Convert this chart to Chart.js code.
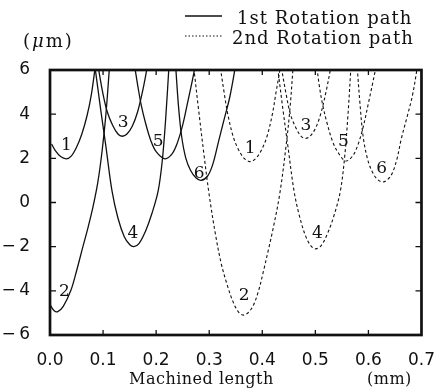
<!DOCTYPE html>
<html>
<head>
<meta charset="utf-8">
<script src="https://cdn.jsdelivr.net/npm/chart.js@4/dist/chart.umd.min.js"></script>
<style>
  body { margin: 0; background: #fff; }
  canvas { display: block; }
</style>
</head>
<body>
<canvas id="grafico" width="442" height="391"></canvas>
<script>
// Curves: [machined length (mm), height (um)]
// 1st rotation path (solid)
const rot1Curve1 = [[0.003, 2.65], [0.01, 2.35], [0.02, 2.08], [0.031, 1.98], [0.04, 2.1], [0.05, 2.5], [0.06, 3.1], [0.07, 3.95], [0.078, 4.9], [0.085, 6.1]]
const rot1Curve2 = [[0.0, -4.62], [0.007, -4.88], [0.014, -4.95], [0.025, -4.7], [0.039, -4.0], [0.05, -3.1], [0.062, -2.0], [0.072, -1.1], [0.081, -0.2], [0.09, 0.9], [0.098, 2.3], [0.105, 3.9], [0.112, 6.1]]
const rot1Curve3 = [[0.091, 6.1], [0.1, 4.9], [0.108, 4.1], [0.118, 3.5], [0.128, 3.1], [0.136, 3.0], [0.145, 3.1], [0.155, 3.45], [0.165, 4.1], [0.175, 5.1], [0.183, 6.1]]
const rot1Curve4 = [[0.085, 6.1], [0.095, 4.3], [0.105, 2.6], [0.117, 0.5], [0.128, -0.7], [0.14, -1.55], [0.15, -1.9], [0.158, -2.0], [0.168, -1.85], [0.18, -1.3], [0.192, -0.5], [0.204, 0.55], [0.212, 2.0], [0.218, 3.8], [0.224, 6.1]]
const rot1Curve5 = [[0.16, 6.1], [0.166, 5.2], [0.172, 4.4], [0.18, 3.6], [0.19, 2.8], [0.2, 2.3], [0.2165, 1.98], [0.23, 2.2], [0.24, 2.7], [0.25, 3.5], [0.26, 4.6], [0.268, 5.5], [0.273, 6.1]]
const rot1Curve6 = [[0.237, 6.1], [0.242, 4.4], [0.248, 3.0], [0.256, 2.0], [0.265, 1.45], [0.275, 1.12], [0.2845, 1.0], [0.297, 1.2], [0.307, 1.75], [0.318, 2.8], [0.328, 3.75], [0.339, 4.8], [0.349, 6.1]]

// 2nd rotation path (dashed)
const rot2Curve1 = [[0.321, 6.1], [0.328, 5.0], [0.335, 4.0], [0.345, 3.0], [0.355, 2.4], [0.366, 2.0], [0.377, 1.85], [0.388, 2.0], [0.399, 2.4], [0.409, 3.0], [0.419, 4.0], [0.426, 5.0], [0.434, 6.1]]
const rot2Curve2 = [[0.271, 6.1], [0.28, 4.2], [0.29, 2.2], [0.3, 0.34], [0.312, -1.47], [0.323, -2.8], [0.334, -3.74], [0.345, -4.5], [0.355, -4.95], [0.365, -5.1], [0.375, -4.95], [0.3835, -4.64], [0.393, -4.0], [0.402, -3.13], [0.411, -2.2], [0.4205, -1.17], [0.433, 0.4], [0.445, 2.6], [0.452, 4.2], [0.458, 6.1]]
const rot2Curve3 = [[0.436, 6.1], [0.445, 4.9], [0.453, 4.0], [0.463, 3.4], [0.473, 3.0], [0.481, 2.9], [0.49, 3.0], [0.5, 3.35], [0.51, 4.0], [0.52, 5.0], [0.529, 6.1]]
const rot2Curve4 = [[0.429, 6.1], [0.439, 4.2], [0.448, 2.6], [0.46, 0.5], [0.471, -0.7], [0.483, -1.6], [0.493, -2.0], [0.501, -2.1], [0.511, -1.95], [0.523, -1.4], [0.535, -0.6], [0.547, 0.5], [0.555, 2.0], [0.561, 3.8], [0.567, 6.1]]
const rot2Curve5 = [[0.503, 6.1], [0.508, 5.2], [0.514, 4.4], [0.522, 3.6], [0.532, 2.8], [0.542, 2.3], [0.557, 1.88], [0.57, 2.1], [0.58, 2.6], [0.59, 3.4], [0.6, 4.5], [0.608, 5.4], [0.614, 6.1]]
const rot2Curve6 = [[0.579, 6.1], [0.584, 4.5], [0.59, 3.0], [0.598, 2.0], [0.607, 1.4], [0.617, 1.05], [0.628, 0.93], [0.642, 1.2], [0.653, 1.9], [0.662, 2.89], [0.672, 3.8], [0.683, 4.85], [0.692, 6.1]]

// Number tags next to each curve: [text, x (mm), y (um)]
const rot1Tags = [['1', 0.031, 2.6], ['2', 0.027, -4.05], ['3', 0.138, 3.6], ['4', 0.156, -1.4], ['5', 0.204, 2.74], ['6', 0.281, 1.3]]
const rot2Tags = [['1', 0.377, 2.44], ['2', 0.366, -4.2], ['3', 0.482, 3.5], ['4', 0.504, -1.4], ['5', 0.553, 2.74], ['6', 0.625, 1.53]]

const xTicks = [0, 0.1, 0.2, 0.3, 0.4, 0.5, 0.6, 0.7]
const yTicks = [-6, -4, -2, 0, 2, 4, 6]
const legendLabels = ['1st Rotation path', '2nd Rotation path']

const ink = '#111'

const armarDataset = (puntos, dashed) => ({
  data: puntos.map(([x, y]) => ({ x, y })),
  borderColor: ink,
  borderWidth: dashed ? 1.1 : 1.3,
  borderDash: dashed ? [3, 2.5] : [],
  pointRadius: 0,
  fill: false,
  tension: 0.35
})

const rot1 = [rot1Curve1, rot1Curve2, rot1Curve3, rot1Curve4, rot1Curve5, rot1Curve6]
const rot2 = [rot2Curve1, rot2Curve2, rot2Curve3, rot2Curve4, rot2Curve5, rot2Curve6]

// frame, inner ticks, legend, tags and axis texts
const decoracion = {
  id: 'decoracion',
  afterDatasetsDraw(chart) {
    const { ctx, chartArea: a, scales } = chart
    const xs = scales.x, ys = scales.y
    ctx.save()
    ctx.strokeStyle = ink
    ctx.fillStyle = ink
    ctx.setLineDash([])

    // ticks pointing inward
    ctx.lineWidth = 1.3
    ctx.beginPath()
    for (const v of xTicks.slice(1, -1)) {
      const px = xs.getPixelForValue(v)
      ctx.moveTo(px, a.bottom); ctx.lineTo(px, a.bottom - 5)
      ctx.moveTo(px, a.top); ctx.lineTo(px, a.top + 5)
    }
    for (const v of yTicks.slice(1, -1)) {
      const py = ys.getPixelForValue(v)
      ctx.moveTo(a.left, py); ctx.lineTo(a.left + 6, py)
      ctx.moveTo(a.right, py); ctx.lineTo(a.right - 6, py)
    }
    ctx.stroke()

    // frame
    ctx.lineWidth = 2.7
    ctx.strokeRect(a.left, a.top, a.right - a.left, a.bottom - a.top)

    // curve numbers
    ctx.font = '17px "DejaVu Serif"'
    ctx.textAlign = 'center'
    ctx.textBaseline = 'middle'
    for (const [t, x, y] of rot1Tags.concat(rot2Tags)) {
      ctx.fillText(t, xs.getPixelForValue(x), ys.getPixelForValue(y))
    }

    // legend
    ctx.textAlign = 'left'
    ctx.textBaseline = 'alphabetic'
    ctx.lineWidth = 1.3
    ctx.beginPath(); ctx.moveTo(185, 16); ctx.lineTo(222, 16); ctx.stroke()
    ctx.lineWidth = 1.1
    ctx.setLineDash([1.5, 2])
    ctx.beginPath(); ctx.moveTo(185, 36); ctx.lineTo(222, 36); ctx.stroke()
    ctx.setLineDash([])
    ctx.font = '18px "DejaVu Serif"'
    ctx.letterSpacing = '1px'
    ctx.fillText(legendLabels[0], 237, 24)
    ctx.fillText(legendLabels[1], 232, 44)

    // unit of y axis
    ctx.letterSpacing = '2px'
    ctx.fillText('(', 23, 47)
    let w = ctx.measureText('(').width
    ctx.font = 'italic 18px "DejaVu Serif"'
    ctx.fillText('\u03bc', 23 + w, 47)
    w += ctx.measureText('\u03bc').width
    ctx.font = '18px "DejaVu Serif"'
    ctx.fillText('m)', 23 + w, 47)

    // x axis title
    ctx.letterSpacing = '0.5px'
    ctx.font = '16px "DejaVu Serif"'
    ctx.fillText('Machined length', 129, 384)
    ctx.fillText('(mm)', 367, 384)
    ctx.restore()
  }
}

const chart = new Chart(document.getElementById('grafico'), {
  type: 'line',
  data: {
    datasets: rot1.map(c => armarDataset(c, false)).concat(rot2.map(c => armarDataset(c, true)))
  },
  options: {
    responsive: false,
    animation: false,
    layout: { padding: { top: 70, right: 15, left: 0, bottom: 0 } },
    plugins: { legend: { display: false }, tooltip: { enabled: false } },
    scales: {
      x: {
        type: 'linear',
        min: 0,
        max: 0.7,
        afterFit: (axis) => { axis.height = 56 },
        afterBuildTicks: (axis) => { axis.ticks = xTicks.map(v => ({ value: v })) },
        grid: { display: false },
        border: { display: false },
        ticks: {
          padding: 7,
          color: ink,
          font: { family: 'DejaVu Sans', size: 17 },
          maxRotation: 0,
          callback: (v) => v.toFixed(1)
        }
      },
      y: {
        type: 'linear',
        min: -6,
        max: 6,
        afterFit: (axis) => { axis.width = 50 },
        afterBuildTicks: (axis) => { axis.ticks = yTicks.map(v => ({ value: v })) },
        grid: { display: false },
        border: { display: false },
        ticks: {
          padding: 12,
          color: ink,
          font: { family: 'DejaVu Sans', size: 17 },
          callback: (v) => v < 0 ? '\u2212\u2009' + Math.abs(v) : String(v)
        }
      }
    }
  },
  plugins: [decoracion]
})
</script>
</body>
</html>
